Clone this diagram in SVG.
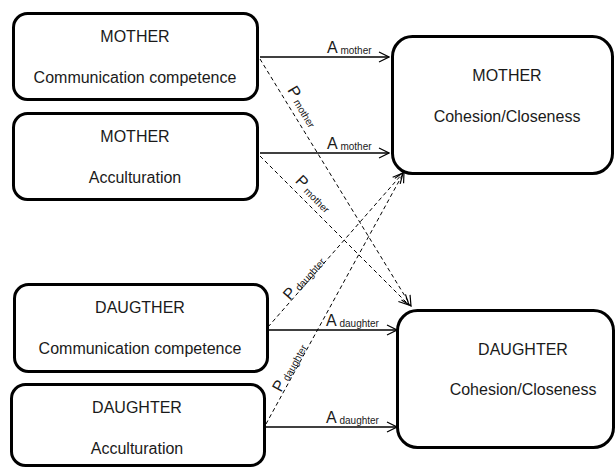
<svg xmlns="http://www.w3.org/2000/svg" width="615" height="467" viewBox="0 0 615 467">
<style>
.box{fill:#fff;stroke:#000;stroke-width:3}
.t{font-family:"Liberation Sans",Arial,sans-serif;font-size:16px;fill:#1a1a1a;text-anchor:middle}
.lab{font-family:"Liberation Sans",Arial,sans-serif;font-size:16px;fill:#1a1a1a}
.sub{font-size:10px}
.a{stroke:#000;stroke-width:1.3;fill:none;marker-end:url(#arr)}
.p{stroke:#000;stroke-width:1;fill:none;stroke-dasharray:4 3;marker-end:url(#arr)}
</style>
<defs>
<marker id="arr" viewBox="0 0 12 12" refX="11" refY="6" markerWidth="12" markerHeight="12" markerUnits="userSpaceOnUse" orient="auto">
<path d="M1,1 L11,6 L1,11" fill="none" stroke="#000" stroke-width="1.2"/>
</marker>
</defs>
<rect width="615" height="467" fill="#fff"/>
<g id="connectors">
<line class="a" x1="260" y1="57" x2="389" y2="57"/>
<line class="a" x1="260" y1="153" x2="389" y2="153"/>
<line class="a" x1="268" y1="330" x2="397" y2="330"/>
<line class="a" x1="266" y1="427" x2="397" y2="427"/>
<line class="p" x1="260" y1="59" x2="411" y2="306"/>
<line class="p" x1="260" y1="156" x2="409" y2="305"/>
<line class="p" x1="268" y1="327" x2="403" y2="173"/>
<line class="p" x1="266" y1="424" x2="404" y2="172"/>
<text class="lab" x="327" y="53">A<tspan class="sub" dy="1"> mother</tspan></text>
<text class="lab" x="327" y="149">A<tspan class="sub" dy="1"> mother</tspan></text>
<text class="lab" x="326" y="326">A<tspan class="sub" dy="1"> daughter</tspan></text>
<text class="lab" x="326" y="423">A<tspan class="sub" dy="1"> daughter</tspan></text>
<text class="lab" transform="translate(287,90) rotate(58.7)">P<tspan class="sub" dy="1"> mother</tspan></text>
<text class="lab" transform="translate(294.5,181.5) rotate(45)">P<tspan class="sub" dy="1"> mother</tspan></text>
<text class="lab" transform="translate(290,301) rotate(-48.5)">P<tspan class="sub" dy="1"> daughter</tspan></text>
<text class="lab" transform="translate(281,393) rotate(-61.2)">P<tspan class="sub" dy="1"> daughter</tspan></text>
</g>
<g id="mother-comm">
<rect class="box" x="13.5" y="13.5" width="244" height="86" rx="14"/>
<text class="t" x="135" y="42">MOTHER</text>
<text class="t" x="135" y="83">Communication competence</text>
</g>
<g id="mother-accult">
<rect class="box" x="13.5" y="113.5" width="244" height="86" rx="14"/>
<text class="t" x="135" y="142">MOTHER</text>
<text class="t" x="135" y="183">Acculturation</text>
</g>
<g id="mother-cohesion">
<rect class="box" x="392.5" y="36.5" width="220" height="137" rx="20"/>
<text class="t" x="507" y="81">MOTHER</text>
<text class="t" x="507" y="122">Cohesion/Closeness</text>
</g>
<g id="daughter-comm">
<rect class="box" x="14.5" y="284.5" width="253" height="87" rx="14"/>
<text class="t" x="140" y="313">DAUGTHER</text>
<text class="t" x="140" y="354">Communication competence</text>
</g>
<g id="daughter-accult">
<rect class="box" x="11.5" y="384.5" width="253" height="81" rx="14"/>
<text class="t" x="137" y="413">DAUGHTER</text>
<text class="t" x="137" y="454">Acculturation</text>
</g>
<g id="daughter-cohesion">
<rect class="box" x="397.5" y="310.5" width="216" height="137" rx="20"/>
<text class="t" x="523" y="355">DAUGHTER</text>
<text class="t" x="523" y="395">Cohesion/Closeness</text>
</g>
</svg>
